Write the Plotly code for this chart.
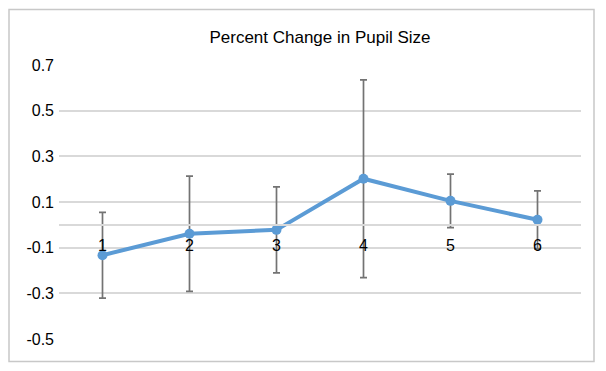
import plotly.graph_objects as go

categories = ["1", "2", "3", "4", "5", "6"]
values = [-0.133, -0.039, -0.022, 0.202, 0.105, 0.022]
errors = [0.188, 0.252, 0.188, 0.433, 0.117, 0.127]
y_ticks = [-0.5, -0.3, -0.1, 0.1, 0.3, 0.5, 0.7]
y_tick_labels = ["-0.5", "-0.3", "-0.1", "0.1", "0.3", "0.5", "0.7"]
title_text = "Percent Change in Pupil Size"

FONT = "Liberation Sans, Arial, sans-serif"

# page body has an 8px default margin; figure is sized to fill the rest
W, H = 598, 363
L, R, T, B = 51, 25, 57, 32
PW, PH = W - L - R, H - T - B

fig = go.Figure()
fig.add_trace(go.Scatter(
    x=categories, y=values,
    mode="lines+markers",
    line=dict(color="#5B9BD5", width=4),
    marker=dict(color="#5B9BD5", size=10),
    error_y=dict(type="data", array=errors, visible=True,
                 color="#737373", thickness=1.7, width=3.5),
    showlegend=False,
))

y_min, y_max = -0.5, 0.7
fig.update_layout(
    width=W, height=H,
    margin=dict(l=L, r=R, t=T, b=B),
    paper_bgcolor="white", plot_bgcolor="white",
    font=dict(family=FONT, color="#000000"),
    title=dict(text=title_text, x=0.5, xref="paper", xanchor="center",
               y=1 - 29 / H, yref="container", yanchor="middle",
               font=dict(size=17, family=FONT, color="#000000")),
    xaxis=dict(
        type="category", range=[-0.5, 5.5],
        anchor="free", position=(0 - y_min) / (y_max - y_min),
        showline=True, linecolor="#D9D9D9", linewidth=1.5,
        showgrid=False, zeroline=False, ticks="",
        tickfont=dict(size=16, family=FONT, color="#000000"),
        ticklabelstandoff=6,
    ),
    yaxis=dict(
        range=[y_min, y_max],
        tickvals=y_ticks, ticktext=y_tick_labels,
        showgrid=True, gridcolor="#D9D9D9", gridwidth=1.5,
        zeroline=False, showline=False, ticks="",
        tickfont=dict(size=16, family=FONT, color="#000000"),
        ticklabelstandoff=4,
    ),
    shapes=[dict(
        type="rect", xref="paper", yref="paper",
        x0=(1 - L) / PW, x1=(586 - L) / PW,
        y0=-(353.5 - (T + PH)) / PH, y1=(T + PH - 1.5) / PH,
        line=dict(color="#C8C8C8", width=1.5), fillcolor="rgba(0,0,0,0)",
        layer="below",
    )],
)

fig.write_html("out.html")
